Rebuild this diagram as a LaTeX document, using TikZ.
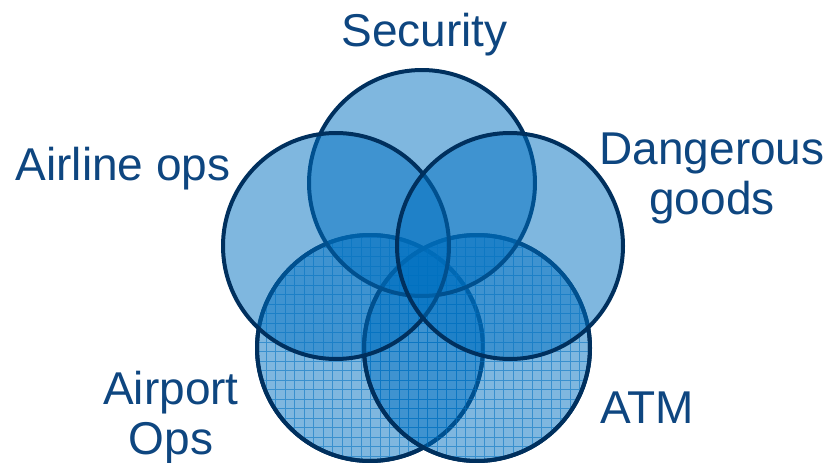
\documentclass[tikz,border=0pt]{standalone}
\usepackage{fontspec}
\setmainfont{Liberation Sans}
\definecolor{vfill}{RGB}{0,112,192}
\definecolor{vline}{RGB}{0,48,94}
\definecolor{vtext}{RGB}{14,70,128}
\begin{document}
\begin{tikzpicture}[x=1pt,y=-1pt,
  venn/.style={circle, inner sep=0pt, minimum size=226pt, line width=4pt,
    draw=vline, fill=vfill, fill opacity=0.5, draw opacity=1},
  gridline/.style={draw=vfill, line width=0.9pt, opacity=0.55},
  lbl/.style={text=vtext, inner sep=0pt, anchor=base, align=center,
    font=\fontsize{46}{50}\selectfont}]
\useasboundingbox (0,0) rectangle (833,463);
% bottom circles with grid
\node[venn] (ap) at (370,348) {};
\begin{scope}
  \clip (ap.center) circle (113pt);
  \draw[gridline, step=9.5pt] (250,228) grid (490,468);
\end{scope}
\draw[line width=4pt, draw=vline] (ap.center) circle (113pt);
\node[venn] (atm) at (477,348) {};
\begin{scope}
  \clip (atm.center) circle (113pt);
  \draw[gridline, step=9.5pt] (250,228) grid (600,468);
\end{scope}
\draw[line width=4pt, draw=vline] (atm.center) circle (113pt);
% upper circles
\node[venn] (sec) at (422,183) {};
\node[venn] (air) at (336,246) {};
\node[venn] (dg) at (510,246) {};
% labels
\node[lbl] (tsec) at (424.5,46) {Security};
\node[lbl] (tair) at (123,180) {Airline ops};
\node[lbl] (tdg) at (712,214) {Dangerous\\goods};
\node[lbl] (tap) at (171,454) {Airport\\Ops};
\node[lbl] (tatm) at (647,423) {ATM};
\end{tikzpicture}
\end{document}
